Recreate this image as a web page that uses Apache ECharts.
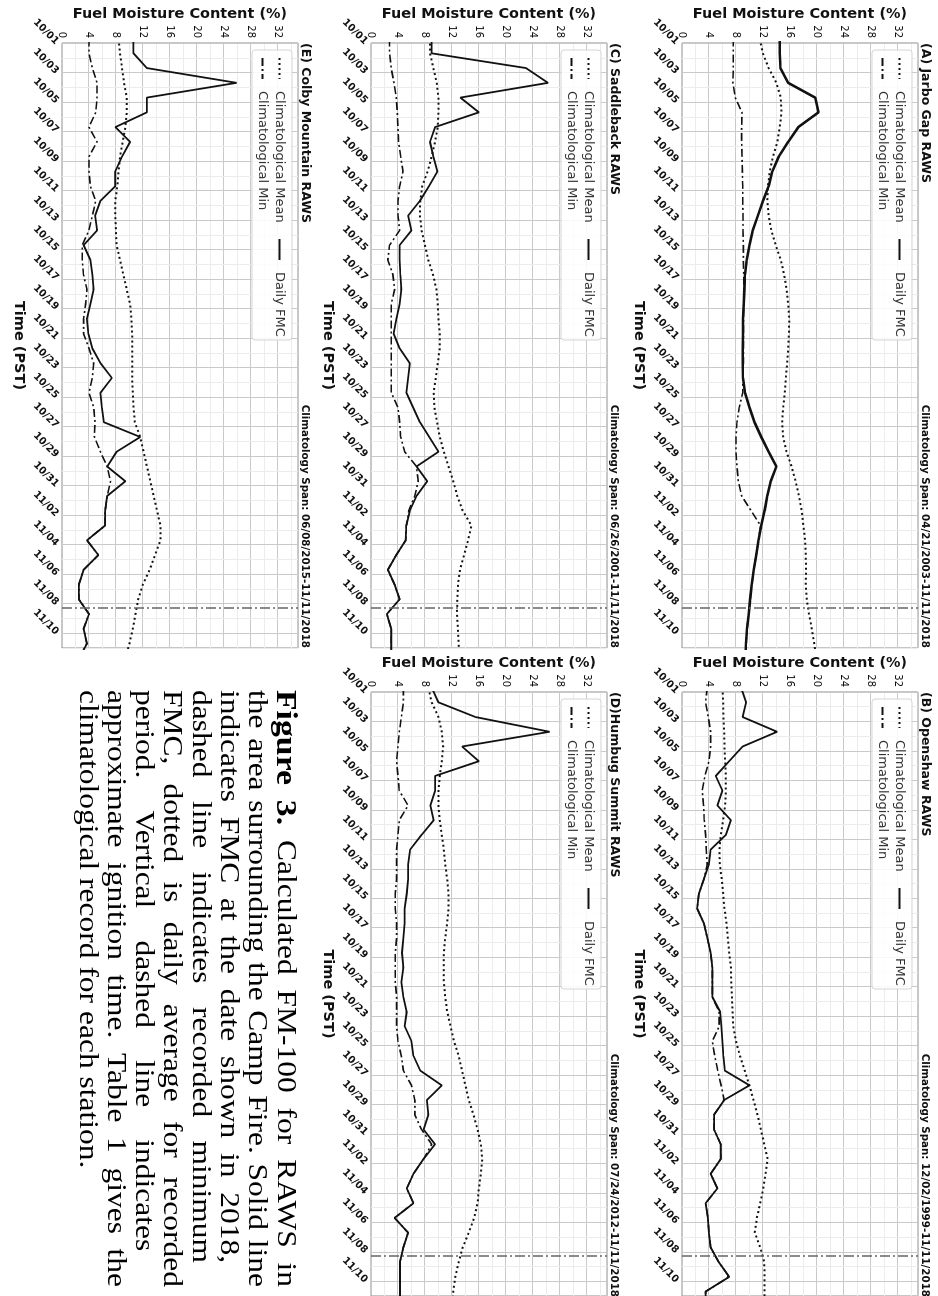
<!DOCTYPE html>
<html>
<head>
<meta charset="utf-8">
<script src="https://cdn.jsdelivr.net/npm/echarts@6/dist/echarts.min.js"></script>
<style>
  html, body { margin: 0; padding: 0; background: #fff; width: 938px; height: 1296px; overflow: hidden; }
  /* the figure is laid out landscape and turned a quarter turn clockwise */
  #page { position: absolute; left: 0; top: 0; width: 1296px; height: 938px;
          transform-origin: 0 0; transform: translate(938px, 0) rotate(90deg); }
</style>
</head>
<body>
<div id="page"></div>
<script>
// ---- time base: day 0 = 10/01 00:00 PST, daily readings taken late afternoon ----
const FIRST_READING_DAY = -0.3;     // 09/30 ~17:00
const IGNITION_DAY = 38.27;         // 11/08 06:30 PST
const TIME_LABELS = ['10/01','10/03','10/05','10/07','10/09','10/11','10/13','10/15','10/17','10/19',
                     '10/21','10/23','10/25','10/27','10/29','10/31','11/02','11/04','11/06','11/08','11/10'];
const FMC_TICKS = [0, 4, 8, 12, 16, 20, 24, 28, 32];

const STATIONS = ['(A) Jarbo Gap RAWS', '(B) Openshaw RAWS', '(C) Saddleback RAWS',
                  '(D)Humbug Summit RAWS', '(E) Colby Mountain RAWS'];
const SPANS = ['Climatology Span: 04/21/2003-11/11/2018', 'Climatology Span: 12/02/1999-11/11/2018',
               'Climatology Span: 06/26/2001-11/11/2018', 'Climatology Span: 07/24/2012-11/11/2018',
               'Climatology Span: 06/08/2015-11/11/2018'];

// ---- FM-100 (%) one value per day, 09/30 .. 11/11 ----
const jarboDaily = [14.5,14.5,14.6,15.75,19.75,20.25,17.25,15.75,14.35,13.4,12.85,12.0,11.25,10.5,10.0,9.6,9.35,9.25,9.15,9.05,9.05,9.0,9.0,9.05,9.35,10.0,10.75,11.75,12.85,14.0,13.15,12.65,12.25,11.75,11.35,11.0,10.65,10.35,10.1,9.9,9.65,9.5,9.4];
const jarboMean  = [11.5,12.0,12.85,14.0,14.65,14.75,14.5,14.15,13.5,13.0,12.75,12.65,12.85,13.25,13.9,14.65,15.15,15.5,15.75,15.9,15.85,15.75,15.6,15.4,15.25,15.0,14.85,15.0,15.5,16.25,16.85,17.35,17.75,18.0,18.25,18.35,18.4,18.35,18.5,18.85,19.25,19.6,19.9];
const jarboMin   = [7.6,7.6,7.6,7.55,7.9,8.9,8.85,8.85,8.9,8.95,9.0,9.0,9.05,9.05,9.1,9.1,9.15,9.15,9.15,9.1,9.1,9.1,9.1,9.05,9.0,8.5,8.15,8.0,8.0,8.15,8.35,8.85,10.25,11.65,11.35,11.0,10.65,10.35,10.1,9.9,9.65,9.5,9.4];

const openshawDaily = [8.75,9.5,9.0,14.1,9.0,7.0,5.0,6.0,5.25,7.25,6.5,4.25,4.0,3.25,2.5,2.25,3.25,3.75,4.25,4.5,4.5,4.5,5.65,5.85,6.0,6.15,6.35,10.0,6.25,4.75,4.75,5.75,5.75,4.25,5.25,3.5,3.85,4.0,4.25,5.45,7.0,3.5,3.5];
const openshawMean  = [6.0,6.1,6.15,6.25,6.3,6.4,6.5,6.5,6.4,6.1,5.75,5.55,5.6,5.9,6.1,6.3,6.6,6.8,7.0,7.25,7.3,7.4,7.5,7.6,8.0,8.6,9.3,10.0,10.6,11.2,11.7,12.2,12.7,12.4,12.05,11.6,11.1,10.8,11.6,12.2,12.25,12.25,12.25];
const openshawMin   = [3.75,3.5,3.9,4.25,4.25,4.0,3.4,3.0,3.2,3.3,3.5,3.6,3.75,3.25,2.5,2.25,3.25,3.75,4.25,4.5,4.5,4.5,5.5,5.5,4.5,4.85,5.3,5.8,6.25,4.75,4.75,5.75,5.75,4.25,5.25,3.5,3.85,4.0,4.25,5.45,7.0,3.5,3.5];

const saddlebackDaily = [9.0,9.0,23.0,26.25,13.25,16.0,9.5,8.75,9.25,9.85,8.6,7.25,5.5,6.0,4.25,4.25,4.35,4.5,4.25,3.75,3.35,4.25,5.75,5.5,5.25,6.25,7.25,8.65,10.0,6.75,8.35,6.75,5.75,5.25,5.15,3.75,2.5,3.5,4.25,2.35,3.0,3.0,3.0];
const saddlebackMean  = [8.75,8.75,9.25,9.75,10.0,10.0,9.9,9.5,9.0,8.4,7.6,7.3,7.25,7.5,8.0,8.5,9.2,9.7,9.9,10.0,10.2,10.2,9.9,9.6,9.3,9.4,9.8,10.2,10.8,11.5,12.2,12.8,13.6,14.9,14.4,13.8,13.2,12.9,12.8,12.75,12.9,13.0,13.0];
const saddlebackMin   = [2.75,2.75,3.0,3.4,3.75,3.9,4.0,4.1,4.4,4.75,4.25,4.0,4.0,4.25,2.75,2.5,3.25,3.5,3.0,3.0,3.0,3.0,3.0,3.0,3.0,4.0,4.25,4.4,5.0,6.75,7.0,6.5,5.6,5.25,5.15,3.75,2.5,3.5,4.25,2.35,3.0,3.0,3.0];

const humbugDaily = [9.0,10.0,15.5,26.5,13.5,16.0,9.5,9.5,8.8,9.3,7.5,5.8,5.5,5.5,5.3,5.0,5.0,4.8,4.6,4.8,4.5,4.8,5.3,5.0,6.0,6.3,7.3,10.5,8.3,8.5,7.8,9.5,7.8,6.3,5.3,6.3,3.5,5.5,4.8,4.3,4.3,4.3,4.3];
const humbugMean  = [8.5,9.0,10.0,10.5,10.7,10.5,10.2,10.0,10.0,10.2,10.5,10.8,11.0,11.3,11.5,11.5,11.3,11.0,10.8,10.8,10.8,11.0,11.3,11.8,12.3,13.0,13.5,14.0,14.5,15.2,15.8,16.3,16.5,16.3,16.0,15.8,15.3,14.5,13.6,13.0,12.5,12.2,12.0];
const humbugMin   = [4.8,4.8,4.5,4.2,4.0,3.8,4.0,4.2,5.5,4.2,4.0,3.8,3.8,3.8,3.6,3.6,3.8,3.8,3.6,3.6,3.6,3.8,3.8,3.8,4.0,4.5,4.8,6.0,6.5,6.5,7.5,9.0,7.8,6.3,5.3,6.3,3.5,5.5,4.8,4.3,4.3,4.3,4.3];

const colbyDaily = [10.6,10.6,12.6,25.9,12.6,12.6,7.9,10.1,8.9,7.9,7.9,5.7,4.9,5.2,3.2,4.2,4.5,4.7,4.2,3.7,3.9,4.5,5.7,7.4,5.7,5.9,6.2,11.6,8.1,6.7,9.4,6.7,6.4,6.4,3.7,5.4,3.2,2.5,2.5,4.0,3.2,3.7,2.5];
const colbyMean  = [8.4,8.6,8.9,9.2,9.6,9.6,9.4,9.0,8.6,8.4,8.2,7.9,7.9,8.0,8.1,8.6,9.1,9.6,10.1,10.3,10.4,10.4,10.4,10.4,10.5,10.6,10.8,11.6,12.1,12.6,13.1,13.6,14.1,14.6,14.6,13.8,13.0,12.0,11.3,10.9,10.5,10.0,9.4];
const colbyMin   = [4.0,4.0,4.5,5.2,5.2,5.0,4.0,5.2,4.0,4.0,4.2,5.0,4.5,4.0,3.0,3.0,3.2,3.7,3.5,3.2,3.2,4.0,4.7,4.5,4.0,4.7,4.9,4.8,5.7,6.7,7.2,6.7,6.4,6.4,3.7,5.4,3.2,2.5,2.5,4.0,3.2,3.7,2.5];

const DAILY = [jarboDaily, openshawDaily, saddlebackDaily, humbugDaily, colbyDaily];
const MEAN  = [jarboMean, openshawMean, saddlebackMean, humbugMean, colbyMean];
const MIN   = [jarboMin, openshawMin, saddlebackMin, humbugMin, colbyMin];

// ---- layout (landscape page coordinates) ----
const PANEL_POS = [[43, 20], [692, 20], [43, 331], [692, 331], [43, 640]];
const PLOT_W = 605, PLOT_H = 236;
const SANS = '"DejaVu Sans", "Noto Sans", sans-serif';
const SERIF = '"Liberation Serif", "DejaVu Serif", serif';
const GRID_MAJOR = '#c9c9c9', GRID_MINOR = '#ececec';
const INK = '#111';

const toPoints = vals => vals.map((v, k) => [k + FIRST_READING_DAY, v]);

const grids = [], xAxes = [], yAxes = [], series = [], legends = [], graphics = [];

PANEL_POS.forEach(([gx, gy], i) => {
  grids.push({ left: gx, top: gy, width: PLOT_W, height: PLOT_H, show: true,
               borderColor: '#8c8c8c', borderWidth: 1, backgroundColor: 'transparent' });

  xAxes.push({
    type: 'value', gridIndex: i, min: 0, max: 41, interval: 1,
    name: 'Time (PST)', nameLocation: 'middle', nameGap: 36,
    nameTextStyle: { fontFamily: SANS, fontWeight: 'bold', fontSize: 14.5, color: INK },
    axisLine: { show: false }, axisTick: { show: false },
    axisLabel: { rotate: 45, margin: 5, fontFamily: SANS, fontWeight: 'bold', fontSize: 10, color: INK,
                 showMaxLabel: false,
                 formatter: v => (v % 2 === 0 && TIME_LABELS[v / 2]) ? TIME_LABELS[v / 2] : '' },
    splitLine: { show: true, lineStyle: { color: [GRID_MAJOR, GRID_MINOR], width: 1 } }
  });

  yAxes.push({
    type: 'value', gridIndex: i, min: 0, max: 35, interval: 2,
    name: 'Fuel Moisture Content (%)', nameLocation: 'middle', nameGap: 20, nameRotate: 90,
    nameTextStyle: { fontFamily: SANS, fontWeight: 'bold', fontSize: 14.5, color: INK },
    axisLine: { show: false }, axisTick: { show: false },
    axisLabel: { margin: 5, fontFamily: SANS, fontSize: 10, color: INK,
                 formatter: v => FMC_TICKS.includes(v) ? String(v) : '' },
    splitLine: { show: true, lineStyle: { color: [GRID_MAJOR, GRID_MINOR], width: 1 } }
  });

  series.push({
    type: 'line', name: 'Climatological Mean', xAxisIndex: i, yAxisIndex: i,
    data: toPoints(MEAN[i]), symbol: 'none', silent: true, animation: false, z: 2,
    itemStyle: { color: INK },
    lineStyle: { color: INK, width: 2, type: [2, 3] }
  });
  series.push({
    type: 'line', name: 'Climatological Min', xAxisIndex: i, yAxisIndex: i,
    data: toPoints(MIN[i]), symbol: 'none', silent: true, animation: false, z: 2,
    itemStyle: { color: INK },
    lineStyle: { color: INK, width: 1.6, type: [8, 3, 2, 3] }
  });
  series.push({
    type: 'line', name: 'Daily FMC', xAxisIndex: i, yAxisIndex: i,
    data: toPoints(DAILY[i]), symbol: 'none', silent: true, animation: false, z: 3,
    itemStyle: { color: INK },
    lineStyle: { color: INK, width: i === 0 ? 2.6 : 1.8 },
    markLine: {
      silent: true, animation: false, symbol: ['none', 'none'], label: { show: false },
      lineStyle: { color: '#666', width: 1.5, type: [10, 3, 2, 3] },
      data: [{ xAxis: IGNITION_DAY }]
    }
  });

  const legendBase = {
    itemWidth: 21, itemHeight: 14, itemGap: 4, selectedMode: false, z: 6, padding: 0,
    itemStyle: { opacity: 0 },
    textStyle: { fontFamily: SANS, fontSize: 13, color: '#333', padding: [0, 0, 0, 7] }
  };
  legends.push(Object.assign({}, legendBase, {
    orient: 'vertical', left: gx + 14, top: gy + 12, data: ['Climatological Mean', 'Climatological Min']
  }));
  legends.push(Object.assign({}, legendBase, {
    orient: 'vertical', left: gx + 195, top: gy + 12, data: ['Daily FMC']
  }));

  graphics.push({
    type: 'rect', z: 5, shape: { x: gx + 7, y: gy + 6, width: 290, height: 40, r: 3 },
    style: { fill: 'rgba(255,255,255,0.85)', stroke: '#d4d4d4', lineWidth: 1 }
  });
  graphics.push({
    type: 'text', z: 6, x: gx, y: gy - 7,
    style: { text: STATIONS[i], fontFamily: SANS, fontWeight: 'bold', fontSize: 12.5, fill: INK,
             align: 'left', verticalAlign: 'middle' }
  });
  graphics.push({
    type: 'text', z: 6, x: gx + PLOT_W, y: gy - 7,
    style: { text: SPANS[i], fontFamily: SANS, fontWeight: 'bold', fontSize: 10.3, fill: INK,
             align: 'right', verticalAlign: 'middle' }
  });
});

// ---- figure caption: wide serif block, each line spread to its set length ----
const CAPTION = [
  'Figure 3. Calculated FM-100 for RAWS in',
  'the area surrounding the Camp Fire. Solid line',
  'indicates FMC at the date shown in 2018,',
  'dashed line indicates recorded minimum',
  'FMC, dotted is daily average for recorded',
  'period. Vertical dashed line indicates',
  'approximate ignition time. Table 1 gives the',
  'climatological record for each station.'
];
const CAP_LINE_FILL = [1.0, 1.0, 0.96, 0.96, 1.0, 0.94, 1.0, 0];   // 0 = natural spacing
const CAP_LEFT = 690, CAP_WIDTH = 597, CAP_FIRST = 653, CAP_LEAD = 28.3;
const CAP_SIZE = 28, CAP_BOLD_SIZE = 30, CAP_STRETCH = 1.125;
const measureCtx = document.createElement('canvas').getContext('2d');
const textWidth = (s, bold) => {
  measureCtx.font = (bold ? 'bold ' + CAP_BOLD_SIZE : CAP_SIZE) + 'px ' + SERIF;
  return measureCtx.measureText(s).width * CAP_STRETCH;
};
CAPTION.forEach((line, li) => {
  const words = line.split(' ').map((w, wi) => ({ w, bold: li === 0 && wi < 2 }));
  words.forEach(o => { o.width = textWidth(o.w, o.bold); });
  const total = words.reduce((s, o) => s + o.width, 0);
  const space = textWidth(' ', false);
  const fill = CAP_LINE_FILL[li];
  const gap = fill ? Math.max(space, (CAP_WIDTH * fill - total) / (words.length - 1)) : space;
  let x = CAP_LEFT;
  words.forEach(o => {
    graphics.push({
      type: 'text', z: 6, x: x, y: CAP_FIRST + li * CAP_LEAD, scaleX: CAP_STRETCH,
      style: { text: o.w, fontFamily: SERIF, fontSize: o.bold ? CAP_BOLD_SIZE : CAP_SIZE,
               fontWeight: o.bold ? 'bold' : 'normal', fill: '#000', align: 'left', verticalAlign: 'middle' }
    });
    x += o.width + gap;
  });
});

const chart = echarts.init(document.getElementById('page'), null,
                           { renderer: 'canvas', width: 1296, height: 938 });
chart.setOption({
  backgroundColor: '#fff',
  animation: false,
  grid: grids, xAxis: xAxes, yAxis: yAxes,
  legend: legends, series: series, graphic: graphics
});
</script>
</body>
</html>
